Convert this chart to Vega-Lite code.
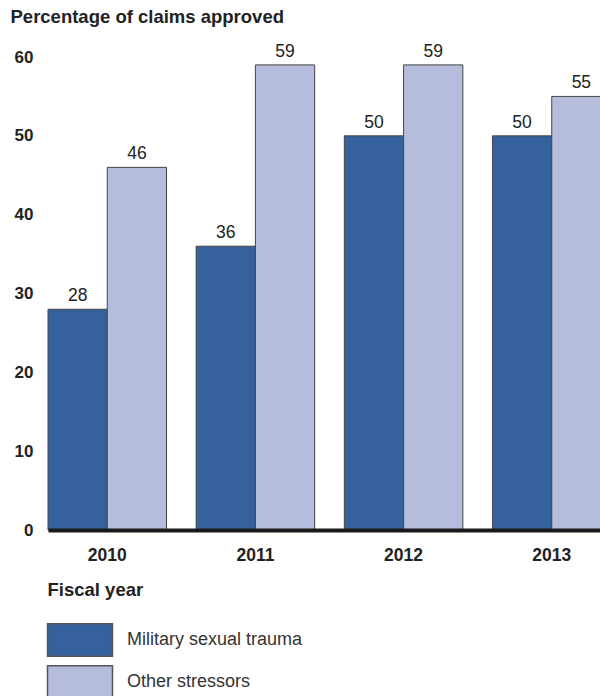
{
  "$schema": "https://vega.github.io/schema/vega-lite/v6.json",
  "autosize": "none",
  "width": 563,
  "height": 473,
  "padding": {"left": 48, "top": 57, "right": 0, "bottom": 166},
  "config": {"view": {"stroke": null}, "font": "Liberation Sans"},
  "data": {
    "values": [
      {"year": "2010", "series": "Military sexual trauma", "value": 28},
      {"year": "2010", "series": "Other stressors", "value": 46},
      {"year": "2011", "series": "Military sexual trauma", "value": 36},
      {"year": "2011", "series": "Other stressors", "value": 59},
      {"year": "2012", "series": "Military sexual trauma", "value": 50},
      {"year": "2012", "series": "Other stressors", "value": 59},
      {"year": "2013", "series": "Military sexual trauma", "value": 50},
      {"year": "2013", "series": "Other stressors", "value": 55}
    ]
  },
  "encoding": {
    "x": {
      "field": "year",
      "type": "nominal",
      "scale": {"paddingInner": 0.2, "paddingOuter": 0},
      "axis": {
        "title": "Fiscal year",
        "titleFontSize": 18.5,
        "titleFontWeight": "bold",
        "titleColor": "#222",
        "titleAlign": "left",
        "titleAnchor": "start",
        "titleBaseline": "alphabetic",
        "titleX": -1,
        "titleY": 65,
        "labelAngle": 0,
        "labelFontSize": 17.5,
        "labelFontWeight": "bold",
        "labelColor": "#222",
        "labelPadding": 16,
        "ticks": false,
        "domainColor": "#1a1a1a",
        "domainWidth": 4,
        "zindex": 1
      }
    },
    "xOffset": {"field": "series", "type": "nominal", "sort": ["Military sexual trauma", "Other stressors"]},
    "y": {
      "field": "value",
      "type": "quantitative",
      "scale": {"domain": [0, 60]},
      "axis": {
        "title": "Percentage of claims approved",
        "titleAngle": 0,
        "titleAlign": "left",
        "titleBaseline": "alphabetic",
        "titleX": -38,
        "titleY": -35,
        "titleFontSize": 18.5,
        "titleFontWeight": "bold",
        "titleColor": "#222",
        "values": [0, 10, 20, 30, 40, 50, 60],
        "labelFontSize": 17,
        "labelFontWeight": "bold",
        "labelColor": "#222",
        "labelPadding": 15,
        "ticks": false,
        "domain": false,
        "grid": false
      }
    }
  },
  "layer": [
    {
      "mark": {"type": "bar", "stroke": "#444", "strokeWidth": 1},
      "encoding": {
        "color": {
          "field": "series",
          "type": "nominal",
          "sort": ["Military sexual trauma", "Other stressors"],
          "scale": {"domain": ["Military sexual trauma", "Other stressors"], "range": ["#35629c", "#b5bcdc"]},
          "legend": {
            "title": null,
            "orient": "none",
            "legendX": 15,
            "legendY": 566,
            "symbolType": "M-2,-1H2V1H-2Z",
            "symbolSize": 1056,
            "symbolStrokeColor": "#555",
            "symbolStrokeWidth": 1.5,
            "symbolOpacity": 1,
            "labelFontSize": 18,
            "labelColor": "#333",
            "labelOffset": 30,
            "labelLimit": 400,
            "rowPadding": 2
          }
        }
      }
    },
    {
      "mark": {"type": "text", "baseline": "alphabetic", "dy": -8, "fontSize": 17.5, "color": "#222"},
      "encoding": {"text": {"field": "value", "type": "quantitative"}}
    }
  ]
}
